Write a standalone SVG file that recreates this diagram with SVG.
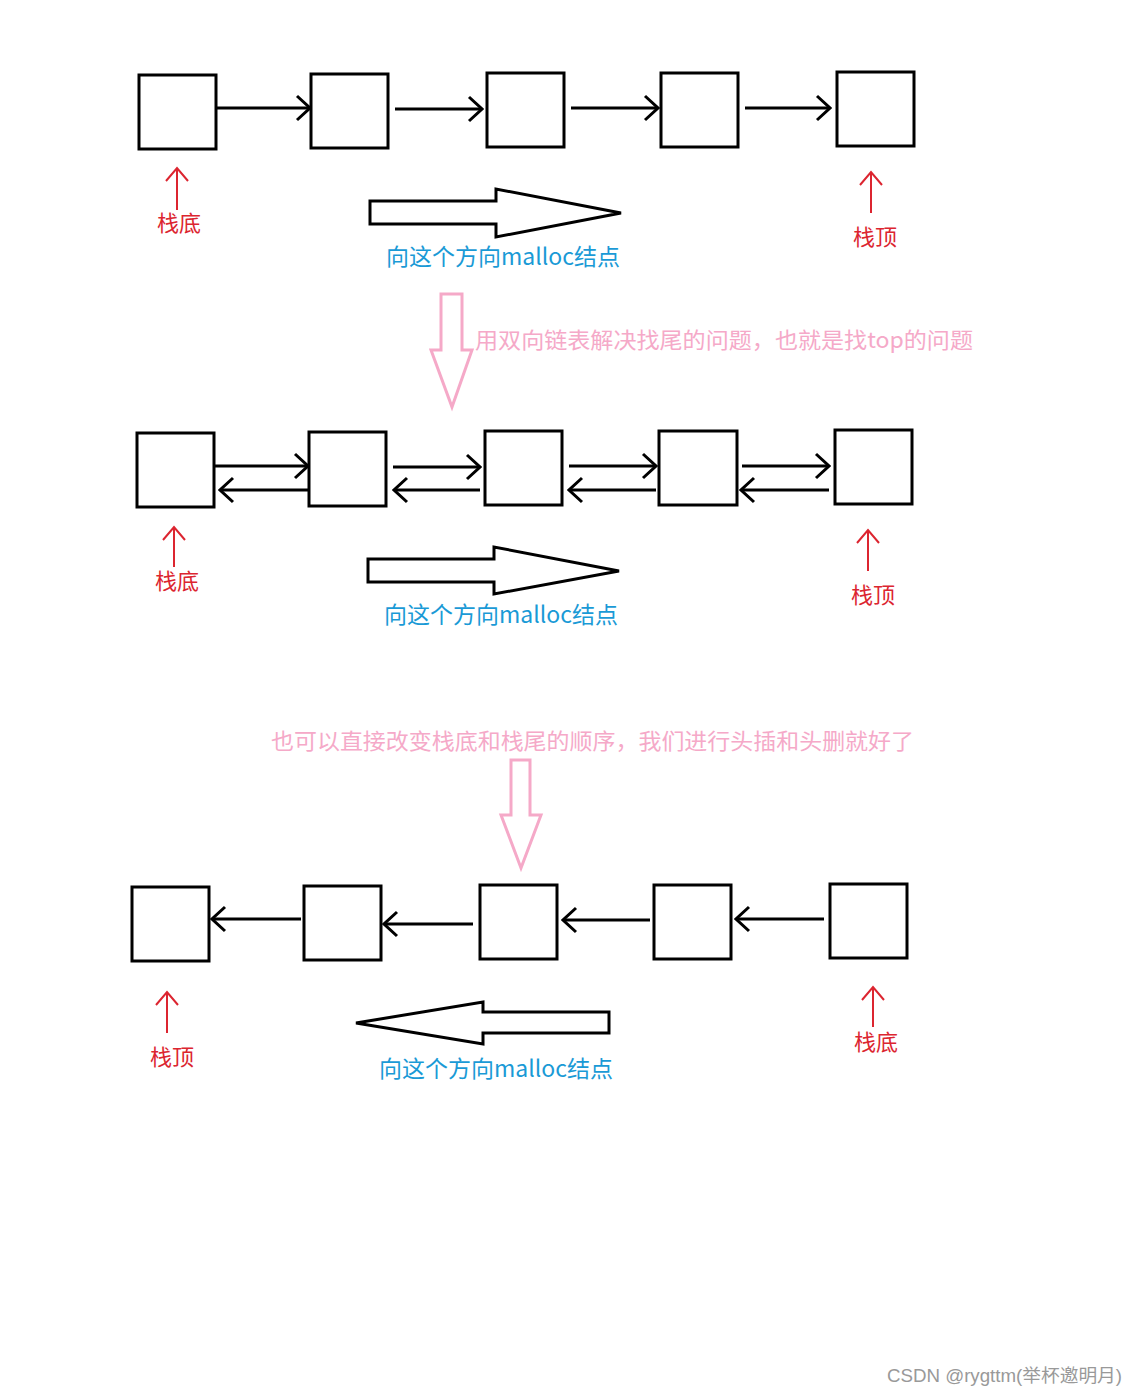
<svg xmlns="http://www.w3.org/2000/svg" width="1136" height="1395" viewBox="0 0 1136 1395">
<style>
.box{fill:#fff;stroke:#000;stroke-width:3}
.ln{fill:none;stroke:#000;stroke-width:3;marker-end:url(#chev)}
.big{fill:#fff;stroke:#000;stroke-width:3;stroke-linejoin:miter}
.pk{fill:#fff;stroke:#f5a9c8;stroke-width:3}
.rd{fill:none;stroke:#dc2530;stroke-width:2;marker-end:url(#rchev)}
.lbl{font-family:"Noto Sans CJK SC","Microsoft YaHei",sans-serif;font-size:22px;fill:#dc2530;text-anchor:middle}
.bl{font-family:"Noto Sans CJK SC","Microsoft YaHei",sans-serif;font-size:23px;fill:#1a9ad6}
.pt{font-family:"Noto Sans CJK SC","Microsoft YaHei",sans-serif;font-size:22px;fill:#f5a9c8}
.wm{font-family:"Liberation Sans","Noto Sans CJK SC",sans-serif;font-size:18px;fill:#999}
</style>
<defs>
<marker id="chev" viewBox="-16 -15 18 30" refX="0" refY="0" markerWidth="18" markerHeight="30" markerUnits="userSpaceOnUse" orient="auto">
<path d="M-13,-12 L0,0 L-13,12" fill="none" stroke="#000" stroke-width="3"/>
</marker>
<marker id="rchev" viewBox="-14 -13 16 26" refX="0" refY="0" markerWidth="16" markerHeight="26" markerUnits="userSpaceOnUse" orient="auto">
<path d="M-13,-11 L0,0 L-13,11" fill="none" stroke="#dc2530" stroke-width="2"/>
</marker>
</defs>
<rect width="1136" height="1395" fill="#fff"/>

<g id="connectors">
<!-- row 1 -->
<line class="ln" x1="217" y1="108" x2="310" y2="108"/>
<line class="ln" x1="395" y1="109" x2="482" y2="109"/>
<line class="ln" x1="571" y1="108" x2="658" y2="108"/>
<line class="ln" x1="745" y1="108" x2="830" y2="108"/>
<!-- row 2 -->
<line class="ln" x1="215" y1="466" x2="308" y2="466"/>
<line class="ln" x1="308" y1="490" x2="220" y2="490"/>
<line class="ln" x1="393" y1="467" x2="480" y2="467"/>
<line class="ln" x1="480" y1="490" x2="394" y2="490"/>
<line class="ln" x1="569" y1="466" x2="656" y2="466"/>
<line class="ln" x1="656" y1="490" x2="569" y2="490"/>
<line class="ln" x1="742" y1="466" x2="829" y2="466"/>
<line class="ln" x1="829" y1="490" x2="741" y2="490"/>
<!-- row 3 -->
<line class="ln" x1="301" y1="919" x2="212" y2="919"/>
<line class="ln" x1="473" y1="924" x2="384" y2="924"/>
<line class="ln" x1="650" y1="920" x2="563" y2="920"/>
<line class="ln" x1="824" y1="919" x2="736" y2="919"/>
</g>

<g id="row1">
<g id="r1n1"><rect class="box" x="139" y="75" width="77" height="74"/></g>
<g id="r1n2"><rect class="box" x="311" y="74" width="77" height="74"/></g>
<g id="r1n3"><rect class="box" x="487" y="73" width="77" height="74"/></g>
<g id="r1n4"><rect class="box" x="661" y="73" width="77" height="74"/></g>
<g id="r1n5"><rect class="box" x="837" y="72" width="77" height="74"/></g>
</g>
<g id="r1-bottom"><line class="rd" x1="177" y1="210" x2="177" y2="168"/><text class="lbl" x="179" y="231">栈底</text></g>
<g id="r1-top"><line class="rd" x1="871" y1="213" x2="871" y2="172"/><text class="lbl" x="875" y="245">栈顶</text></g>
<g id="r1-dir">
<path class="big" d="M370,201 L496,201 L496,189 L621,213 L496,237 L496,224 L370,224 Z"/>
<text class="bl" x="386" y="265" textLength="234" lengthAdjust="spacingAndGlyphs">向这个方向malloc结点</text>
</g>

<g id="note1">
<path class="pk" d="M441,294 L462,294 L462,350 L472,350 L452,407 L431,350 L441,350 Z"/>
<text class="pt" x="475" y="348" textLength="498" lengthAdjust="spacingAndGlyphs">用双向链表解决找尾的问题，也就是找top的问题</text>
</g>

<g id="row2">
<g id="r2n1"><rect class="box" x="137" y="433" width="77" height="74"/></g>
<g id="r2n2"><rect class="box" x="309" y="432" width="77" height="74"/></g>
<g id="r2n3"><rect class="box" x="485" y="431" width="77" height="74"/></g>
<g id="r2n4"><rect class="box" x="659" y="431" width="78" height="74"/></g>
<g id="r2n5"><rect class="box" x="835" y="430" width="77" height="74"/></g>
</g>
<g id="r2-bottom"><line class="rd" x1="174" y1="567" x2="174" y2="527"/><text class="lbl" x="177" y="589">栈底</text></g>
<g id="r2-top"><line class="rd" x1="868" y1="571" x2="868" y2="530"/><text class="lbl" x="873" y="603">栈顶</text></g>
<g id="r2-dir">
<path class="big" d="M368,559 L494,559 L494,547 L619,571 L494,594 L494,582 L368,582 Z"/>
<text class="bl" x="384" y="623" textLength="234" lengthAdjust="spacingAndGlyphs">向这个方向malloc结点</text>
</g>

<g id="note2">
<text class="pt" x="271" y="749" textLength="643" lengthAdjust="spacingAndGlyphs">也可以直接改变栈底和栈尾的顺序，我们进行头插和头删就好了</text>
<path class="pk" d="M511,760 L530,760 L530,815 L541,815 L521,868 L501,815 L511,815 Z"/>
</g>

<g id="row3">
<g id="r3n1"><rect class="box" x="132" y="887" width="77" height="74"/></g>
<g id="r3n2"><rect class="box" x="304" y="886" width="77" height="74"/></g>
<g id="r3n3"><rect class="box" x="480" y="885" width="77" height="74"/></g>
<g id="r3n4"><rect class="box" x="654" y="885" width="77" height="74"/></g>
<g id="r3n5"><rect class="box" x="830" y="884" width="77" height="74"/></g>
</g>
<g id="r3-top"><line class="rd" x1="167" y1="1033" x2="167" y2="992"/><text class="lbl" x="172" y="1065">栈顶</text></g>
<g id="r3-bottom"><line class="rd" x1="873" y1="1027" x2="873" y2="987"/><text class="lbl" x="876" y="1050">栈底</text></g>
<g id="r3-dir">
<path class="big" d="M609,1012 L483,1012 L483,1002 L356,1023 L483,1044 L483,1033 L609,1033 Z"/>
<text class="bl" x="379" y="1077" textLength="234" lengthAdjust="spacingAndGlyphs">向这个方向malloc结点</text>
</g>

<text class="wm" x="887" y="1382" textLength="235" lengthAdjust="spacingAndGlyphs">CSDN @rygttm(举杯邀明月)</text>
</svg>
